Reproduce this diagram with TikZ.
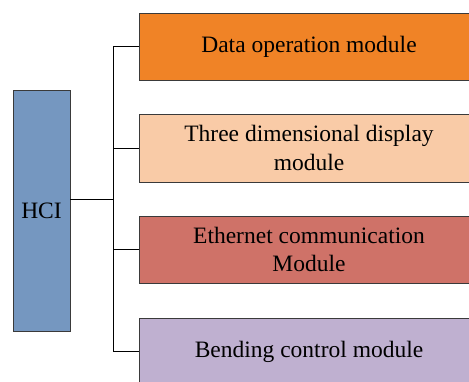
\documentclass[tikz,border=0pt]{standalone}
\usepackage{fontspec}
\setmainfont{Liberation Serif}
\definecolor{cblue}{HTML}{7597C0}
\definecolor{corange}{HTML}{F08326}
\definecolor{cpeach}{HTML}{F9CBA7}
\definecolor{cred}{HTML}{CF7268}
\definecolor{cpurple}{HTML}{BFB0D0}
\definecolor{cborder}{HTML}{3A3A3A}
\begin{document}
\begin{tikzpicture}[x=1pt,y=-1pt,
  modbox/.style={draw=cborder, line width=0.9pt, rectangle, minimum width=340pt, minimum height=67pt, inner sep=0pt, align=center, font=\fontsize{23.5}{28.5}\selectfont},
  link/.style={draw=black, line width=0.9pt}]
\useasboundingbox (0,0) rectangle (469,381);
\clip (0,0) rectangle (469,381);
\fill[white] (0,0) rectangle (469,381);
\node[draw=cborder, line width=0.9pt, fill=cblue, minimum width=57pt, minimum height=241pt, inner sep=0pt, font=\fontsize{23.5}{28.5}\selectfont] (hci) at (41.5,210.5) {HCI};
\node[modbox, fill=corange] (m1) at (309,46.5) {Data operation module};
\node[modbox, fill=cpeach, minimum height=68pt] (m2) at (309,148) {Three dimensional display\\module};
\node[modbox, fill=cred] (m3) at (309,249.5) {Ethernet communication\\Module};
\node[modbox, fill=cpurple] (m4) at (309,351.5) {Bending control module};
\coordinate (j) at (113,199);
\draw[link] (hci.east |- j) -- (j);
\draw[link] (j) |- (m1.west);
\draw[link] (j) |- (m2.west);
\draw[link] (j) |- (m3.west);
\draw[link] (j) |- (m4.west);
\end{tikzpicture}
\end{document}
